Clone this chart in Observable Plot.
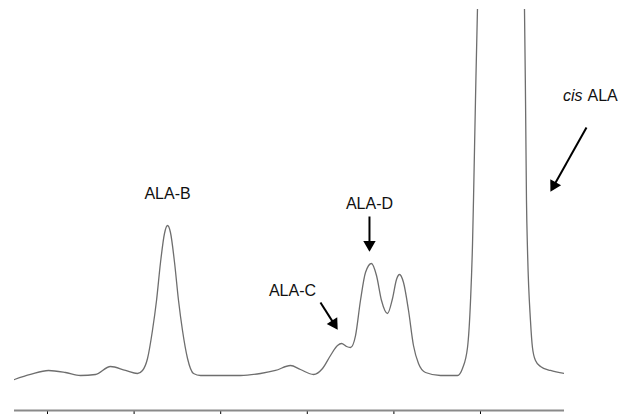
<!DOCTYPE html>
<html>
<head>
<meta charset="utf-8">
<script src="https://cdn.jsdelivr.net/npm/d3@7"></script>
<script src="https://cdn.jsdelivr.net/npm/@observablehq/plot@0.6"></script>
<style>
  html, body { margin: 0; padding: 0; background: #fff; }
  #chart { width: 626px; height: 414px; overflow: hidden; }
</style>
</head>
<body>
<div id="chart"></div>
<script>
// Retention time (min) and detector response (arbitrary units)
const time = [9.619, 9.804, 10.012, 10.208, 10.381, 10.554, 10.727, 10.901, 11.039, 11.097,
  11.155, 11.212, 11.259, 11.305, 11.351, 11.386, 11.420, 11.467, 11.513, 11.559,
  11.617, 11.686, 11.767, 12.229, 12.460, 12.633, 12.806, 12.921, 13.072, 13.176,
  13.268, 13.349, 13.395, 13.453, 13.499, 13.557, 13.614, 13.672, 13.741, 13.799,
  13.857, 13.926, 13.984, 14.030, 14.065, 14.111, 14.169, 14.226, 14.284, 14.365,
  14.538, 14.734, 14.792, 14.850, 14.885, 14.908, 14.919, 14.942, 14.965, 14.977,
  15.237, 15.497, 15.508, 15.520, 15.531, 15.543, 15.577, 15.600, 15.635, 15.693,
  15.808, 15.970];
const response = [7.73, 8.98, 9.98, 9.48, 8.73, 8.98, 10.97, 9.98, 9.23, 9.98,
  12.97, 19.95, 27.43, 36.91, 44.14, 46.13, 44.39, 36.91, 27.43, 19.95,
  12.97, 9.23, 8.73, 8.73, 9.23, 9.98, 11.22, 10.22, 8.98, 10.47,
  13.72, 16.21, 16.71, 15.96, 15.71, 18.70, 27.43, 34.41, 36.66, 33.67,
  27.43, 24.19, 27.93, 32.67, 33.92, 31.92, 24.94, 16.21, 11.72, 9.48,
  8.73, 8.73, 10.47, 15.71, 27.43, 41.65, 52.37, 77.31, 100.0, 107.2,
  177.0, 107.2, 100.0, 77.31, 52.37, 39.90, 22.44, 15.71, 12.47, 10.97,
  9.98, 9.23];

const tickValues = [10, 11, 12, 13, 14, 15];

// Peak labels
const labelText = ["ALA-B", "ALA-C", "ALA-D"];
const labelTime = [11.386, 12.829, 13.718];
const labelResp = [54.1, 29.93, 51.62];

// "cis ALA" label (italic prefix + name)
const cisTime = 16.207;
const cisResp = 78.55;

// Arrows: start -> head
const arrowX1 = [13.152, 13.718, 16.224];
const arrowY1 = [26.93, 48.38, 70.57];
const arrowX2 = [13.307, 13.718, 15.848];
const arrowY2 = [21.67, 41.40, 56.13];
const arrowAngle = [147.8, 180, 209.4];

const trace = time.map((t, i) => ({t, r: response[i]}));
const labels = labelText.map((s, i) => ({s, t: labelTime[i], r: labelResp[i]}));
const arrows = arrowX1.map((x1, i) => ({x1, y1: arrowY1[i], x2: arrowX2[i], y2: arrowY2[i], a: arrowAngle[i]}));

const font = "'Liberation Sans', Arial, sans-serif";

const chart = Plot.plot({
  width: 626,
  height: 414,
  marginLeft: 14,
  marginRight: 62,
  marginTop: 9,
  marginBottom: 4,
  style: {background: "#fff", fontFamily: font},
  x: {domain: [9.619, 15.970], ticks: tickValues, tickFormat: () => "", tickSize: 7, label: null},
  y: {domain: [0, 100], axis: null},
  marks: [
    Plot.ruleY([0], {stroke: "#8a8a8a", strokeWidth: 2}),
    Plot.line(trace, {x: "t", y: "r", stroke: "#6e6e6e", strokeWidth: 1.3, curve: "monotone-x", clip: true}),
    Plot.text(labels, {x: "t", y: "r", text: "s", fontSize: 16, fill: "#111", fontFamily: font}),
    Plot.text([0], {x: () => cisTime, y: () => cisResp, text: () => "cis", textAnchor: "end", dx: -2.5, fontSize: 16, fontStyle: "italic", fill: "#111", fontFamily: font}),
    Plot.text([0], {x: () => cisTime, y: () => cisResp, text: () => "ALA", textAnchor: "start", dx: 2.5, fontSize: 16, fill: "#111", fontFamily: font}),
    Plot.link(arrows, {x1: "x1", y1: "y1", x2: "x2", y2: "y2", stroke: "#000", strokeWidth: 2}),
    Plot.dot(arrows, {x: "x2", y: "y2", symbol: "triangle", r: 4.6, fill: "#000", stroke: "none", rotate: "a"})
  ]
});
document.getElementById("chart").appendChild(chart);
</script>
</body>
</html>
